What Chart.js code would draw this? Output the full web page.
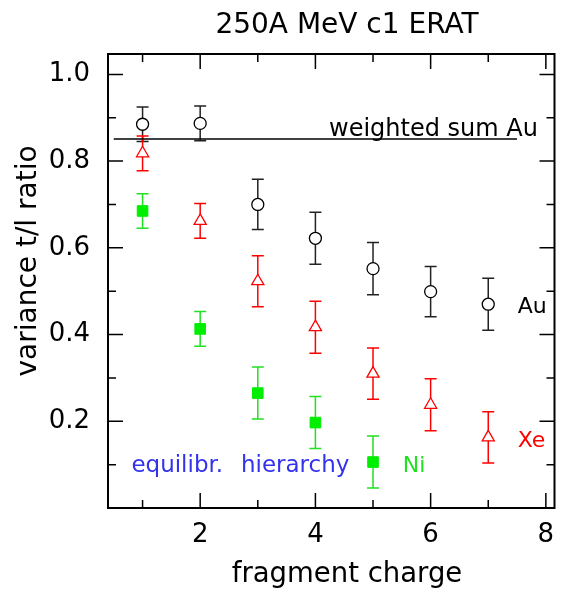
<!DOCTYPE html>
<html>
<head>
<meta charset="utf-8">
<script src="https://cdn.jsdelivr.net/npm/chart.js@4.4.1/dist/chart.umd.min.js"></script>
<style>
html,body{margin:0;padding:0;background:#fff;}
canvas{display:block;}
</style>
</head>
<body>
<canvas id="chart" width="563" height="590"></canvas>
<script>
// ----- Data -----
const charges = [1, 2, 3, 4, 5, 6, 7];
const auRatio = [0.885, 0.887, 0.700, 0.622, 0.552, 0.499, 0.470];
const auErr   = [0.040, 0.040, 0.058, 0.060, 0.060, 0.058, 0.060];
const xeRatio = [0.818, 0.662, 0.523, 0.417, 0.310, 0.238, 0.163];
const xeErr   = [0.040, 0.040, 0.059, 0.060, 0.059, 0.060, 0.059];
const niCharges = [1, 2, 3, 4, 5];
const niRatio = [0.685, 0.413, 0.265, 0.197, 0.106];
const niErr   = [0.040, 0.040, 0.060, 0.060, 0.060];
const weightedSumAu = 0.851;
const weightedSumFrom = 0.5;
const weightedSumTo = 7.5;

// axis ticks
const xTicks = [2, 4, 6, 8];
const xMinorTicks = [1, 3, 5, 7];
const yTicks = [0.2, 0.4, 0.6, 0.8, 1.0];
const yMinorTicks = [0.1, 0.3, 0.5, 0.7, 0.9];

const titleText = '250A MeV c1 ERAT';
const xTitle = 'fragment charge';
const yTitle = 'variance t/l ratio';

// ----- Drawing setup -----
const FONT = "'DejaVu Sans', sans-serif";
Chart.defaults.font.family = FONT;
Chart.defaults.color = '#000';

// text labels placed in data coordinates
const annotations = [
    {text: 'weighted sum Au', x: 4.236, y: 0.858, color: '#000', size: 24},
    {text: 'Au', x: 7.51, y: 0.450, color: '#000', size: 22},
    {text: 'Xe', x: 7.51, y: 0.141, color: '#ff0000', size: 22},
    {text: 'Ni', x: 5.515, y: 0.084, color: '#22e022', size: 22},
    {text: 'equilibr.', x: 0.806, y: 0.084, color: '#3333ee', size: 23},
    {text: 'hierarchy', x: 2.707, y: 0.084, color: '#3333ee', size: 23}
];

function points(xs, ys, errs){
    return xs.map((x, i) => ({x: x, y: ys[i], err: errs[i]}));
}

// ----- Plugins -----
const errorBars = {
    id: 'errorBars',
    beforeDatasetsDraw(chart){
        const ctx = chart.ctx;
        const xs = chart.scales.x, ys = chart.scales.y;
        chart.data.datasets.forEach(ds => {
            if(!ds.errColor) return;
            ctx.save();
            ctx.strokeStyle = ds.errColor;
            ctx.lineWidth = 1.5;
            ds.data.forEach(p => {
                const px = xs.getPixelForValue(p.x);
                const top = ys.getPixelForValue(p.y + p.err);
                const bot = ys.getPixelForValue(p.y - p.err);
                ctx.beginPath();
                ctx.moveTo(px, top); ctx.lineTo(px, bot);
                ctx.moveTo(px - 6, top); ctx.lineTo(px + 6, top);
                ctx.moveTo(px - 6, bot); ctx.lineTo(px + 6, bot);
                ctx.stroke();
            });
            ctx.restore();
        });
    }
};

const frame = {
    id: 'frame',
    afterDraw(chart){
        const ctx = chart.ctx;
        const a = chart.chartArea;
        const xs = chart.scales.x, ys = chart.scales.y;
        ctx.save();
        ctx.strokeStyle = '#000';
        ctx.lineWidth = 2;
        ctx.strokeRect(a.left, a.top, a.right - a.left, a.bottom - a.top);
        ctx.lineWidth = 1.5;
        ctx.beginPath();
        const xtick = (v, len) => {
            const px = xs.getPixelForValue(v);
            ctx.moveTo(px, a.bottom); ctx.lineTo(px, a.bottom - len);
            ctx.moveTo(px, a.top); ctx.lineTo(px, a.top + len);
        };
        const ytick = (v, len) => {
            const py = ys.getPixelForValue(v);
            ctx.moveTo(a.left, py); ctx.lineTo(a.left + len, py);
            ctx.moveTo(a.right, py); ctx.lineTo(a.right - len, py);
        };
        xTicks.forEach(v => xtick(v, 15));
        xMinorTicks.forEach(v => xtick(v, 8));
        yTicks.forEach(v => ytick(v, 15));
        yMinorTicks.forEach(v => ytick(v, 8));
        ctx.stroke();

        // labels inside the plot
        ctx.textBaseline = 'alphabetic';
        ctx.textAlign = 'left';
        annotations.forEach(l => {
            ctx.font = l.size + 'px ' + FONT;
            ctx.fillStyle = l.color;
            ctx.fillText(l.text, xs.getPixelForValue(l.x), ys.getPixelForValue(l.y));
        });

        // titles
        ctx.fillStyle = '#000';
        ctx.textAlign = 'center';
        ctx.font = '28px ' + FONT;
        ctx.fillText(titleText, 347, 33);
        ctx.font = '27.5px ' + FONT;
        ctx.fillText(xTitle, 347, 582);
        ctx.font = '28px ' + FONT;
        ctx.translate(36, 261);
        ctx.rotate(-Math.PI / 2);
        ctx.fillText(yTitle, 0, 0);
        ctx.restore();
    }
};

// ----- Chart -----
new Chart(document.getElementById('chart'), {
    type: 'scatter',
    data: {
        datasets: [
            {
                label: 'Au',
                data: points(charges, auRatio, auErr),
                pointStyle: 'circle', pointRadius: 6,
                borderColor: '#000', backgroundColor: '#fff', borderWidth: 1.3,
                errColor: '#222'
            },
            {
                label: 'Xe',
                data: points(charges, xeRatio, xeErr),
                pointStyle: 'triangle', pointRadius: 7,
                borderColor: '#ff0000', backgroundColor: '#fff', borderWidth: 1.3,
                errColor: '#ff0000'
            },
            {
                label: 'Ni',
                data: points(niCharges, niRatio, niErr),
                pointStyle: 'rect', pointRadius: 7.5,
                borderColor: '#00ee00', backgroundColor: '#00ee00', borderWidth: 1,
                errColor: '#22e022'
            },
            {
                label: 'weighted sum Au',
                type: 'line',
                data: [{x: weightedSumFrom, y: weightedSumAu}, {x: weightedSumTo, y: weightedSumAu}],
                borderColor: '#000', borderWidth: 1.6, pointRadius: 0
            }
        ]
    },
    options: {
        responsive: false,
        animation: false,
        layout: {padding: {left: 0, right: 2, top: 54, bottom: 0}},
        plugins: {
            legend: {display: false},
            tooltip: {enabled: false},
            title: {display: false}
        },
        scales: {
            x: {
                type: 'linear', min: 0.4, max: 8.15,
                afterBuildTicks: s => { s.ticks = xTicks.map(v => ({value: v})); },
                afterFit: s => { s.height = 82; s.paddingLeft = 0; s.paddingRight = 0; },
                grid: {display: false}, border: {display: false},
                ticks: {font: {size: 26}, color: '#000', padding: 4, maxRotation: 0}
            },
            y: {
                type: 'linear', min: 0, max: 1.047,
                afterBuildTicks: s => { s.ticks = yTicks.map(v => ({value: v})); },
                afterFit: s => { s.width = 108; s.paddingTop = 0; s.paddingBottom = 0; },
                grid: {display: false}, border: {display: false},
                ticks: {font: {size: 26}, color: '#000', padding: 10, callback: v => v.toFixed(1)}
            }
        }
    },
    plugins: [errorBars, frame]
});
</script>
</body>
</html>
